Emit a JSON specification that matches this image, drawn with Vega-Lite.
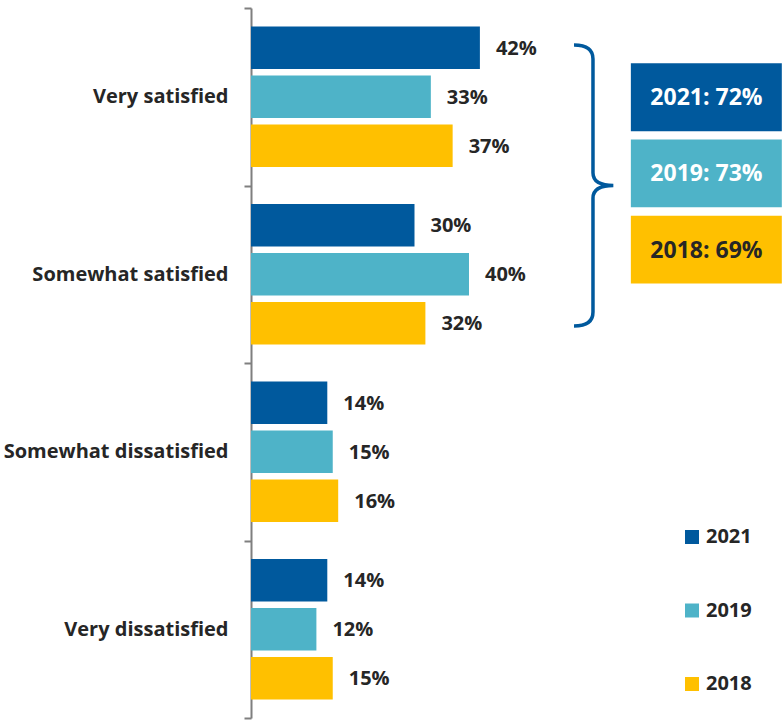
{
  "$schema": "https://vega.github.io/schema/vega-lite/v6.json",
  "width": 533,
  "height": 710,
  "autosize": {"type": "none"},
  "padding": {"left": 251, "top": 8, "right": 0, "bottom": 2},
  "background": "white",
  "config": {"view": {"stroke": null}, "font": "Open Sans"},
  "datasets": {
    "responses": [
      {"category": "Very satisfied", "year": "2021", "value": 0.42},
      {"category": "Very satisfied", "year": "2019", "value": 0.33},
      {"category": "Very satisfied", "year": "2018", "value": 0.37},
      {"category": "Somewhat satisfied", "year": "2021", "value": 0.30},
      {"category": "Somewhat satisfied", "year": "2019", "value": 0.40},
      {"category": "Somewhat satisfied", "year": "2018", "value": 0.32},
      {"category": "Somewhat dissatisfied", "year": "2021", "value": 0.14},
      {"category": "Somewhat dissatisfied", "year": "2019", "value": 0.15},
      {"category": "Somewhat dissatisfied", "year": "2018", "value": 0.16},
      {"category": "Very dissatisfied", "year": "2021", "value": 0.14},
      {"category": "Very dissatisfied", "year": "2019", "value": 0.12},
      {"category": "Very dissatisfied", "year": "2018", "value": 0.15}
    ],
    "totals": [
      {"year": "2021", "total": 0.72},
      {"year": "2019", "total": 0.73},
      {"year": "2018", "total": 0.69}
    ]
  },
  "resolve": {"scale": {"y": "independent"}},
  "layer": [
    {
      "layer": [
        {
          "data": {"name": "responses"},
          "mark": {"type": "bar"},
          "encoding": {
            "y": {"field": "category", "type": "nominal",
              "scale": {"domain": ["Very satisfied", "Somewhat satisfied", "Somewhat dissatisfied", "Very dissatisfied"], "paddingInner": 0, "paddingOuter": 0, "round": false},
              "axis": {"title": null, "domainColor": "#7f7f7f", "domainWidth": 2, "tickColor": "#7f7f7f", "tickWidth": 2, "tickSize": 7, "tickBand": "extent", "grid": false, "labelFont": "Open Sans", "labelFontWeight": "bold", "labelFontSize": 20, "labelColor": "#262626", "labelPadding": 16, "labelLimit": 400}},
            "yOffset": {"field": "year", "type": "nominal", "sort": ["2021", "2019", "2018"],
              "scale": {"paddingInner": 0.133, "paddingOuter": 0.378, "round": false}},
            "x": {"field": "value", "type": "quantitative", "axis": null, "scale": {"domain": [0, 0.978], "nice": false, "zero": true}},
            "color": {"field": "year", "type": "nominal",
              "scale": {"domain": ["2021", "2019", "2018"], "range": ["#00599D", "#4EB3C8", "#FFC000"]},
              "legend": {"orient": "none", "legendX": 431, "legendY": 519, "title": null, "symbolType": "square", "symbolSize": 196, "symbolStrokeWidth": 0, "symbolOpacity": 1, "labelFont": "Open Sans", "labelFontWeight": "bold", "labelFontSize": 20, "labelColor": "#262626", "rowPadding": 53.5, "labelOffset": 4, "padding": 0}}
          }
        },
        {
          "data": {"name": "responses"},
          "mark": {"type": "text", "align": "left", "baseline": "middle", "dx": 16, "dy": 1, "font": "Open Sans", "fontWeight": "bold", "fontSize": 20, "color": "#262626"},
          "encoding": {
            "y": {"field": "category", "type": "nominal",
              "scale": {"domain": ["Very satisfied", "Somewhat satisfied", "Somewhat dissatisfied", "Very dissatisfied"], "paddingInner": 0, "paddingOuter": 0, "round": false}},
            "yOffset": {"field": "year", "type": "nominal", "sort": ["2021", "2019", "2018"],
              "scale": {"paddingInner": 0.133, "paddingOuter": 0.378, "round": false}},
            "x": {"field": "value", "type": "quantitative"},
            "text": {"field": "value", "type": "quantitative", "format": ".0%"}
          }
        },
        {
          "data": {"values": [{"item": "brace"}]},
          "mark": {"type": "point", "shape": "M-0.135,-1 Q0,-1 0,-0.9 L0,-0.09 Q0,0 0.145,0 Q0,0 0,0.09 L0,0.9 Q0,1 -0.135,1", "size": 78961, "filled": false, "stroke": "#00599D", "strokeWidth": 3.5, "opacity": 1},
          "encoding": {
            "x": {"datum": 0.6275, "type": "quantitative"},
            "y": {"datum": "Very satisfied", "type": "nominal", "bandPosition": 1,
              "scale": {"domain": ["Very satisfied", "Somewhat satisfied", "Somewhat dissatisfied", "Very dissatisfied"], "paddingInner": 0, "paddingOuter": 0, "round": false}}
          }
        }
      ]
    },
    {
      "data": {"name": "totals"},
      "transform": [
        {"calculate": "datum.year + ': ' + format(datum.total, '.0%')", "as": "label"}
      ],
      "layer": [
        {
          "mark": {"type": "bar"},
          "encoding": {
            "y": {"field": "year", "type": "nominal", "axis": null,
              "scale": {"domain": ["2021", "2019", "2018"], "range": [55.3, 275.5], "paddingInner": 0.109, "paddingOuter": 0, "round": false}},
            "x": {"datum": 0.697, "type": "quantitative"},
            "x2": {"datum": 0.974},
            "color": {"field": "year", "type": "nominal"}
          }
        },
        {
          "mark": {"type": "text", "align": "center", "baseline": "middle", "dy": 1, "font": "Open Sans", "fontWeight": "bold", "fontSize": 23},
          "encoding": {
            "y": {"field": "year", "type": "nominal", "axis": null,
              "scale": {"domain": ["2021", "2019", "2018"], "range": [55.3, 275.5], "paddingInner": 0.109, "paddingOuter": 0, "round": false}},
            "x": {"datum": 0.8357, "type": "quantitative"},
            "text": {"field": "label", "type": "nominal"},
            "color": {"condition": {"test": "datum.year == '2018'", "value": "#262626"}, "value": "#ffffff"}
          }
        }
      ]
    }
  ]
}
